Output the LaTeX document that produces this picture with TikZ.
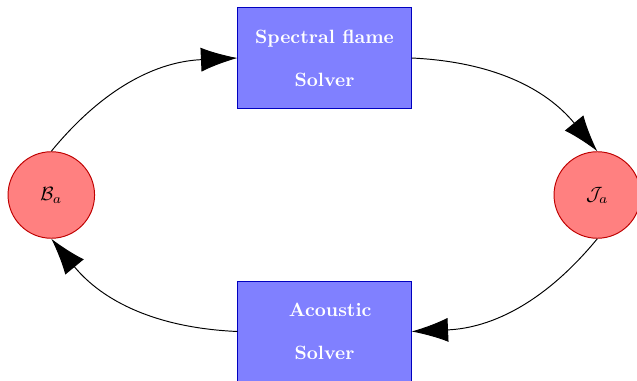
\documentclass[tikz,border=0pt]{standalone}
\usetikzlibrary{arrows.meta}
\begin{document}
\begin{tikzpicture}[x=0.52pt,y=-0.52pt,
  state/.style={circle,draw=red!75!black,fill=red!50,minimum size=45pt,inner sep=0pt,line width=0.5pt},
  solver/.style={rectangle,draw=blue!75!black,fill=blue!50,minimum width=90pt,minimum height=52.5pt,text=white,font=\bfseries,align=center,line width=0.5pt},
  flow/.style={-{Latex[length=19pt,width=12.5pt]},line width=0.5pt}]
\useasboundingbox (0,0) rectangle (637,381);
\node[state] (B) at (51.3,195) {$\mathcal{B}_a$};
\node[state] (J) at (597.3,195) {$\mathcal{J}_a$};
\node[solver] (S) at (324.5,58) {Spectral flame\\[10.4pt]Solver};
\node[solver] (A) at (324.5,331.5) {\hspace*{6pt}Acoustic\\[10.4pt]Solver};
\draw[flow] (B.north) to[bend left=24] (S.west);
\draw[flow] (S.east) to[bend left=24] (J.north);
\draw[flow] (J.south) to[bend left=24] (A.east);
\draw[flow] (A.west) to[bend left=24] (B.south);
\end{tikzpicture}
\end{document}
